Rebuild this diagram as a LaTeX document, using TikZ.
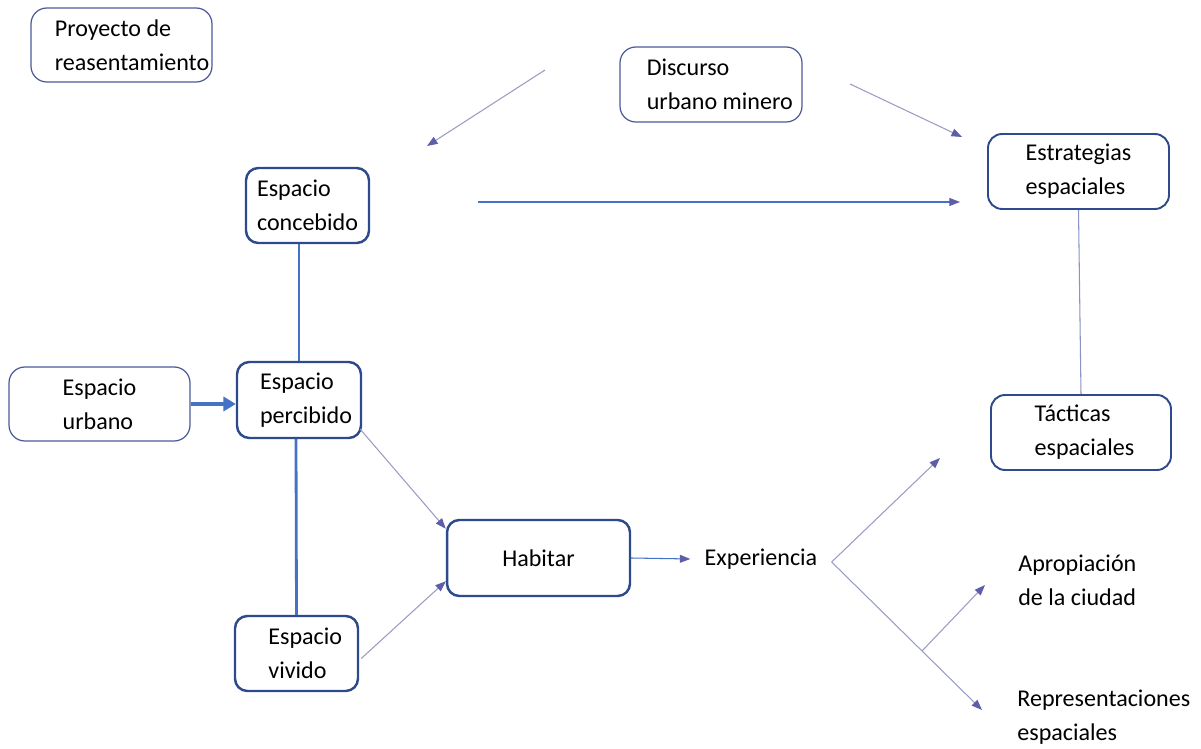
\documentclass[tikz,border=0pt]{standalone}
\usepackage{fontspec}
\setmainfont{Carlito}
\usetikzlibrary{arrows.meta,calc}
\definecolor{boxdark}{HTML}{2E4A8C}
\definecolor{boxthin}{HTML}{4A5A9A}
\definecolor{linkblue}{HTML}{4472C4}
\definecolor{thinline}{HTML}{9A9CC4}
\definecolor{tipc}{HTML}{5E5EA8}
\tikzset{
  txt/.style={font=\fontsize{13.7pt}{19.3pt}\selectfont, align=left, inner sep=0pt},
  boxthick/.style={txt, draw=boxdark, line width=1.4pt, rounded corners=7pt},
  boxthinst/.style={txt, draw=boxthin, line width=0.7pt, rounded corners=9pt},
  boxmed/.style={txt, draw=boxdark, line width=1.1pt, rounded corners=8pt},
  thinarrow/.style={draw=thinline, line width=0.6pt, -{Triangle[length=6pt,width=4.5pt,fill=tipc,color=tipc]}},
  bluearrow/.style={draw=linkblue, line width=0.6pt, -{Triangle[length=6pt,width=4.5pt,fill=tipc,color=tipc]}},
  bluelink/.style={draw=linkblue, line width=1.6pt},
  thinlink/.style={draw=thinline!80!linkblue, line width=0.6pt},
}
\begin{document}
\begin{tikzpicture}[x=0.02cm,y=-0.02cm]
\useasboundingbox (0,0) rectangle (1201,749);
\fill[white] (0,0) rectangle (1201,749);
% boxes
\node[boxthinst, minimum width=3.62cm, minimum height=1.48cm] (proj) at (121.5,45) {\hspace*{12pt}Proyecto de\\\hspace*{12pt}reasentamiento};
\node[boxthinst, minimum width=3.64cm, minimum height=1.50cm] (disc) at (711,84.5) {\hspace*{10pt}Discurso\\\hspace*{10pt}urbano minero};
\node[boxthick, minimum width=2.46cm, minimum height=1.50cm] (conc) at (307.5,205.5) {Espacio\\concebido};
\node[boxthinst, minimum width=3.62cm, minimum height=1.48cm] (urb) at (99.5,404) {Espacio\\urbano};
\node[boxthick, minimum width=2.48cm, minimum height=1.52cm] (perc) at (299,400) {\hspace*{8pt}Espacio\\\hspace*{8pt}percibido};
\node[boxthick, minimum width=2.46cm, minimum height=1.50cm] (viv) at (296.5,653.5) {\hspace*{10pt}Espacio\\\hspace*{10pt}vivido};
\node[boxthick, minimum width=3.66cm, minimum height=1.52cm] (hab) at (538.5,558) {Habitar};
\node[boxmed, minimum width=3.62cm, minimum height=1.50cm] (estr) at (1078.5,171.5) {Estrategias\\espaciales};
\node[boxmed, minimum width=3.60cm, minimum height=1.50cm] (tact) at (1081,432.5) {\hspace*{4pt}Tácticas\\\hspace*{4pt}espaciales};
% plain texts
\node[txt] (exp) at (761,559) {Experiencia};
\node[txt, anchor=west] (apro) at (1018,580) {Apropiación\\de la ciudad};
\node[txt, anchor=west] (repr) at (1017,717) {Representaciones\\espaciales};
% free coordinates
\coordinate (d1s) at (545,70);
\coordinate (d1e) at (427,146);
\coordinate (d2s) at (850,84);
\coordinate (d2e) at (962,137);
\coordinate (hs) at (478,202);
\coordinate (he) at (960,202);
\coordinate (fork) at (832,562);
\coordinate (up) at (940,458);
\coordinate (down) at (982,710);
\coordinate (br) at (922,651);
\coordinate (bre) at (985,585);
% connectors
\draw[thinarrow] (d1s) -- (d1e);
\draw[thinarrow] (d2s) -- (d2e);
\draw[bluearrow] (hs) -- (he);
\draw[thinlink] (estr.south) -- (tact.north);
\draw[bluelink] (conc.south -| 299,0) -- (perc.north);
\draw[bluelink] (perc.south -| 296,0) -- (viv.north);
\draw[draw=linkblue, line width=2.2pt, -{Triangle[length=7pt,width=8pt]}, color=linkblue] (urb.east) -- (perc.west |- urb.east);
\draw[thinarrow] ($(perc.south east)+(-2,-10)$) -- ($(hab.north west)+(0,10)$);
\draw[thinarrow] ($(viv.east)+(2,5)$) -- ($(hab.south west)+(0,-16)$);
\draw[bluearrow] (hab.east) -- ($(exp.west)+(-14,0)$);
\draw[draw=thinline, line width=0.6pt] ($(exp.east)+(14,3)$) coordinate (fork);
\draw[thinarrow] (fork) -- (up);
\draw[thinarrow] (fork) -- (down);
\draw[thinarrow] (br) -- (bre);
\end{tikzpicture}
\end{document}
